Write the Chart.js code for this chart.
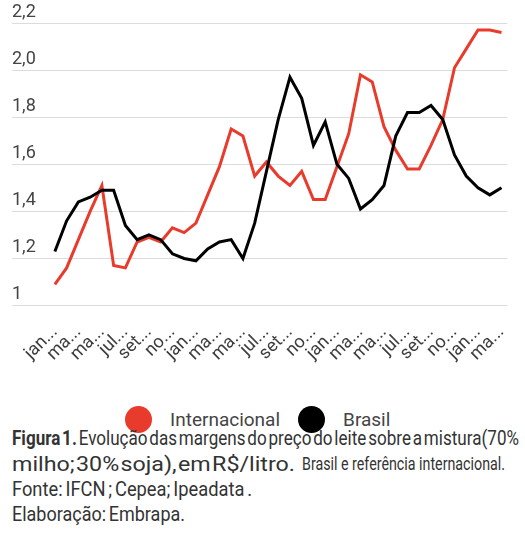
<!DOCTYPE html>
<html><head><meta charset="utf-8">
<script src="https://cdn.jsdelivr.net/npm/chart.js@4"></script>
<style>
html,body{margin:0;padding:0;background:#fff;}
body{width:525px;height:540px;position:relative;overflow:hidden;font-family:Roboto,sans-serif;}
#c{position:absolute;left:0;top:0;}
#legend{position:absolute;left:125px;top:405px;height:28px;display:flex;align-items:center;font-size:19px;color:#444;white-space:nowrap;}
#legend .dot{width:27px;height:27px;border-radius:50%;display:inline-block;}
#legend .txt{margin-left:18px;margin-right:18px;}
.cap{position:absolute;white-space:nowrap;line-height:21px;color:#333;transform-origin:0 0;}
.cap b{font-weight:700;}
</style></head>
<body>
<canvas id="c" width="525" height="380"></canvas>
<div id="legend"></div>
<div id="caption"></div>
<script>
const categories = [
 'jan/15','fev/15','mar/15','abr/15','mai/15','jun/15','jul/15','ago/15','set/15','out/15','nov/15','dez/15',
 'jan/16','fev/16','mar/16','abr/16','mai/16','jun/16','jul/16','ago/16','set/16','out/16','nov/16','dez/16',
 'jan/17','fev/17','mar/17','abr/17','mai/17','jun/17','jul/17','ago/17','set/17','out/17','nov/17','dez/17',
 'jan/18','fev/18','mar/18'];
const tickLabels = ['jan...','ma...','ma...','jul...','set...','no...',
 'jan...','ma...','ma...','jul...','set...','no...',
 'jan...','ma...','ma...','jul...','set...','no...',
 'jan...','ma...'];
const yTickLabels = ['1','1,2','1,4','1,6','1,8','2,0','2,2'];
const internacional = [1.09,1.16,1.28,1.40,1.51,1.17,1.16,1.27,1.29,1.27,1.33,1.31,
 1.35,1.47,1.59,1.75,1.72,1.55,1.61,1.55,1.51,1.57,1.45,1.45,
 1.59,1.73,1.98,1.95,1.76,1.66,1.58,1.58,1.68,1.79,2.01,2.09,
 2.17,2.17,2.16];
const brasil = [1.23,1.36,1.44,1.46,1.49,1.49,1.34,1.28,1.30,1.28,1.22,1.20,
 1.19,1.24,1.27,1.28,1.20,1.35,1.57,1.79,1.97,1.88,1.68,1.78,
 1.60,1.54,1.41,1.45,1.51,1.72,1.82,1.82,1.85,1.79,1.64,1.55,
 1.50,1.47,1.50];
const seriesNames = ['Internacional','Brasil'];
const RED = '#e83b2c';

const chart = new Chart(document.getElementById('c'), {
  type: 'line',
  data: {
    labels: categories,
    datasets: [
      {label: seriesNames[0], data: internacional, borderColor: RED, backgroundColor: RED, borderWidth: 3, pointRadius: 0, tension: 0, order: 1},
      {label: seriesNames[1], data: brasil, borderColor: '#000', backgroundColor: '#000', borderWidth: 3, pointRadius: 0, tension: 0, order: 0}
    ]
  },
  options: {
    responsive: false,
    animation: false,
    layout: {padding: {left: 12, right: 17, top: 23, bottom: 7}},
    plugins: {legend: {display: false}, tooltip: {enabled: false}},
    scales: {
      x: {
        offset: true,
        grid: {display: false},
        border: {display: false},
        ticks: {
          autoSkip: false, maxRotation: 45, minRotation: 45, padding: 8,
          color: '#3d3d3d', font: {family: 'Roboto', size: 18},
          callback: (v, i) => (i % 2 === 0 ? tickLabels[i / 2] : null)
        }
      },
      y: {
        min: 1, max: 2.2,
        afterFit: s => { s.width = 37; },
        border: {display: false},
        grid: {color: '#dcdcdc', lineWidth: 1, drawTicks: true, tickLength: 37},
        ticks: {
          stepSize: 0.2, crossAlign: 'far', labelOffset: -11,
          color: '#444', font: {family: 'Roboto', size: 18},
          callback: (v, i) => yTickLabels[i]
        }
      }
    }
  }
});

// HTML legend built from the datasets
const lg = document.getElementById('legend');
chart.data.datasets.forEach(ds => {
  const d = document.createElement('span'); d.className = 'dot'; d.style.background = ds.borderColor;
  const t = document.createElement('span'); t.className = 'txt'; t.textContent = ds.label;
  lg.appendChild(d); lg.appendChild(t);
});

// caption
const capSegs = [
  {html: '<b>Figura 1.</b> Evolução das margens do preço do leite sobre a mistura(70%', x0: 12, x1: 519, base: 445.7, ws: -3, fs: 21},
  {html: 'milho; 30% soja), em R$/litro.', x0: 12, x1: 295, base: 471.3, ws: -4, fs: 21},
  {html: 'Brasil e referência internacional.', x0: 302, x1: 505, base: 471.3, ws: 0, fs: 18.5},
  {html: 'Fonte: IFCN ; Cepea; Ipeadata .', x0: 12, x1: 252, base: 496.8, ws: -2, fs: 21},
  {html: 'Elaboração: Embrapa.', x0: 12, x1: 185, base: 521.2, ws: -2, fs: 21}
];
const capDiv = document.getElementById('caption');
capSegs.forEach(s => {
  const e = document.createElement('div');
  e.className = 'cap';
  e.innerHTML = s.html;
  e.style.fontSize = s.fs + 'px';
  e.style.wordSpacing = s.ws + 'px';
  e.style.left = s.x0 + 'px';
  e.style.top = (s.base - 17.6) + 'px';
  capDiv.appendChild(e);
  const w = e.getBoundingClientRect().width;
  e.style.transform = 'scaleX(' + ((s.x1 - s.x0) / w) + ')';
});
</script>
</body></html>
